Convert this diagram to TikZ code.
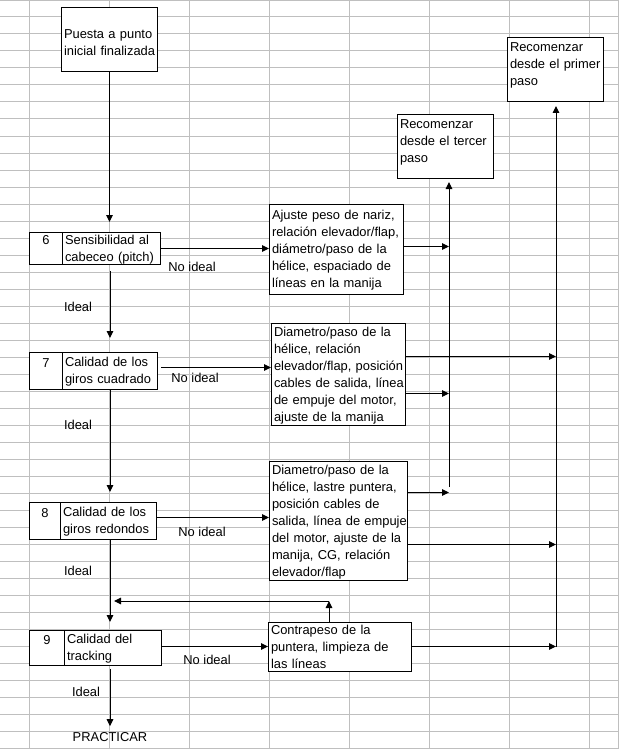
\documentclass[tikz,border=0pt]{standalone}
\usepackage{fontspec}
\setmainfont[Ligatures=NoCommon]{Liberation Sans}
\usetikzlibrary{arrows.meta,shapes}
\newcommand{\cellstrut}{\rule[-1.8pt]{0pt}{12.8pt}}
\newcommand{\dropstrut}{\rule[-1.8pt]{0pt}{17.8pt}}
\newcommand{\cellfont}{\fontsize{12.9}{17}\selectfont}
\newcommand{\cellflush}{\leftskip=0pt\rightskip=-40pt plus 1fil\relax\hyphenpenalty=10000\relax}
\newcommand{\boxgap}{\par\vspace{10pt}}
\tikzstyle{grid line}=[draw=black!25,line width=1pt]
\tikzstyle{cell}=[draw,fill=white,line width=1pt,anchor=north west,inner xsep=2.5pt,inner ysep=0pt,font=\cellfont]
\tikzstyle{box}=[cell,execute at begin node={\cellflush\cellstrut},execute at end node=\cellstrut]
\tikzstyle{low box}=[cell,execute at begin node={\cellflush\dropstrut},execute at end node=\cellstrut]
\tikzstyle{num box}=[cell,align=center,execute at begin node=\cellstrut,execute at end node=\cellstrut]
\tikzstyle{top box}=[box,execute at end node=\boxgap]
\tikzstyle{answer}=[font=\cellfont,inner sep=0pt]
\tikzstyle{link}=[draw,line width=1pt]
\tikzstyle{arrow link}=[link,-{Triangle[length=7pt,width=6.5pt]}]

\begin{document}
\begin{tikzpicture}[x=1pt,y=-1pt]
    \useasboundingbox (0,0) rectangle (619,749);
    % Spreadsheet grid behind the chart
    \draw[grid line] (0,0.5) -- (619,0.5);
    \foreach \row in {1,...,44}
        \draw[grid line] (0,{17*\row}) -- (619,{17*\row});
    \foreach \col in {29,109,...,589}
        \draw[grid line] (\col,0) -- (\col,749);
    \draw[grid line] (618.5,0) -- (618.5,749);

    % Start box and the four steps down the left
    \node[low box,text width=91pt,minimum height=64pt] (start) at (61,7) {Puesta a punto\\inicial finalizada};
    \node[num box,text width=28pt,minimum height=32pt] (n6) at (29,232) {6\\\mbox{}};
    \node[box,text width=93pt,minimum height=32pt] (t6) at (62,232) {Sensibilidad al\\cabeceo (pitch)};
    \node[num box,text width=28pt,minimum height=37pt] (n7) at (29,352) {7\\\mbox{}};
    \node[box,text width=90pt,minimum height=37pt] (t7) at (62,352) {Calidad de los\\giros cuadrado};
    \node[num box,text width=26pt,minimum height=37pt] (n8) at (29,502) {8\\\mbox{}};
    \node[box,text width=91pt,minimum height=37pt] (t8) at (60,502) {Calidad de los\\giros redondos};
    \node[num box,text width=30pt,minimum height=35pt] (n9) at (29,630) {9\\\mbox{}};
    \node[box,text width=92pt,minimum height=35pt] (t9) at (64,630) {Calidad del\\tracking};
    \node[answer] (practicar) at (110,737) {PRACTICAR};

    % Adjustments for each step, and where to start again
    \node[box,text width=129pt,minimum height=90pt] (ajuste6) at (269,204) {Ajuste peso de nariz,\\relación elevador/flap,\\diámetro/paso de la\\hélice, espaciado de\\líneas en la manija};
    \node[box,text width=129pt,minimum height=102pt] (ajuste7) at (271,323) {Diametro/paso de la\\hélice, relación\\elevador/flap, posición\\cables de salida, línea\\de empuje del motor,\\ajuste de la manija};
    \node[box,text width=133pt,minimum height=119pt] (ajuste8) at (269,461) {Diametro/paso de la\\hélice, lastre puntera,\\posición cables de\\salida, línea de empuje\\del motor, ajuste de la\\manija, CG, relación\\elevador/flap};
    \node[box,text width=138pt,minimum height=49pt] (ajuste9) at (268,622) {Contrapeso de la\\puntera, limpieza de\\las líneas};
    \node[top box,text width=91pt,minimum height=64pt] (tercer) at (397,114) {Recomenzar\\desde el tercer\\paso};
    \node[top box,text width=91pt,minimum height=64pt] (primer) at (507,37) {Recomenzar\\desde el primer\\paso};

    \coordinate (riser3) at (449,487);
    \coordinate (riser1) at (556,647);
    \coordinate (back) at (329,601);

    % Ideal path
    \draw[arrow link,shorten >=10pt] (start.south) -- (start.south |- t6.north);
    \draw[arrow link,shorten <=6pt,shorten >=14pt] (t7.north |- t6.south) -- (t7.north);
    \draw[arrow link,shorten >=10pt] (t7.south) -- (t7.south |- t8.north);
    \draw[arrow link,shorten >=8pt] (t7.south |- t8.south) -- (t7.south |- t9.north);
    \draw[arrow link,shorten <=3pt,shorten >=6pt] (t7.south |- t9.south) -- (t7.south |- practicar.north);

    % Not ideal path
    \draw[arrow link] (t6.east) -- (t6.east -| ajuste6.west);
    \coordinate (out7) at ([yshift=3.5pt]t7.east);
    \draw[arrow link,shorten <=3pt] (out7) -- (out7 -| ajuste7.west);
    \coordinate (out8) at ([yshift=3.5pt]t8.east);
    \draw[arrow link] (out8) -- (out8 -| ajuste8.west);
    \coordinate (out9) at ([yshift=1.5pt]t9.east);
    \draw[arrow link] (out9) -- (out9 -| ajuste9.west);

    % From the adjustments to the risers
    \foreach \src/\shift/\riser in {ajuste6/3/riser3,ajuste7/18/riser1,ajuste7/-19/riser3,ajuste8/28.5/riser3,ajuste8/-23.5/riser1,ajuste9/0.5/riser1}
    {
        \coordinate (out) at ([yshift=\shift]\src.east);
        \draw[arrow link] (out) -- (out -| \riser);
    }
    \draw[arrow link,shorten >=3pt] (riser3) -- (riser3 |- tercer.south);
    \draw[arrow link,shorten >=4pt] (riser1) -- (riser1 |- primer.south);
    \draw[arrow link] (back |- ajuste9.north) -- (back);
    \draw[arrow link,shorten >=4pt] (back) -- (back -| t7.south);

    % Labels on the connectors
    \foreach \pos/\name in {{(192,267)/no6},{(195,378)/no7},{(202,532)/no8},{(207,660)/no9}}
        \node[answer] (\name) at \pos {No ideal};
    \foreach \pos/\name in {{(78,307)/ok6},{(78,425)/ok7},{(78,571)/ok8},{(86,692)/ok9}}
        \node[answer] (\name) at \pos {Ideal};
\end{tikzpicture}
\end{document}
